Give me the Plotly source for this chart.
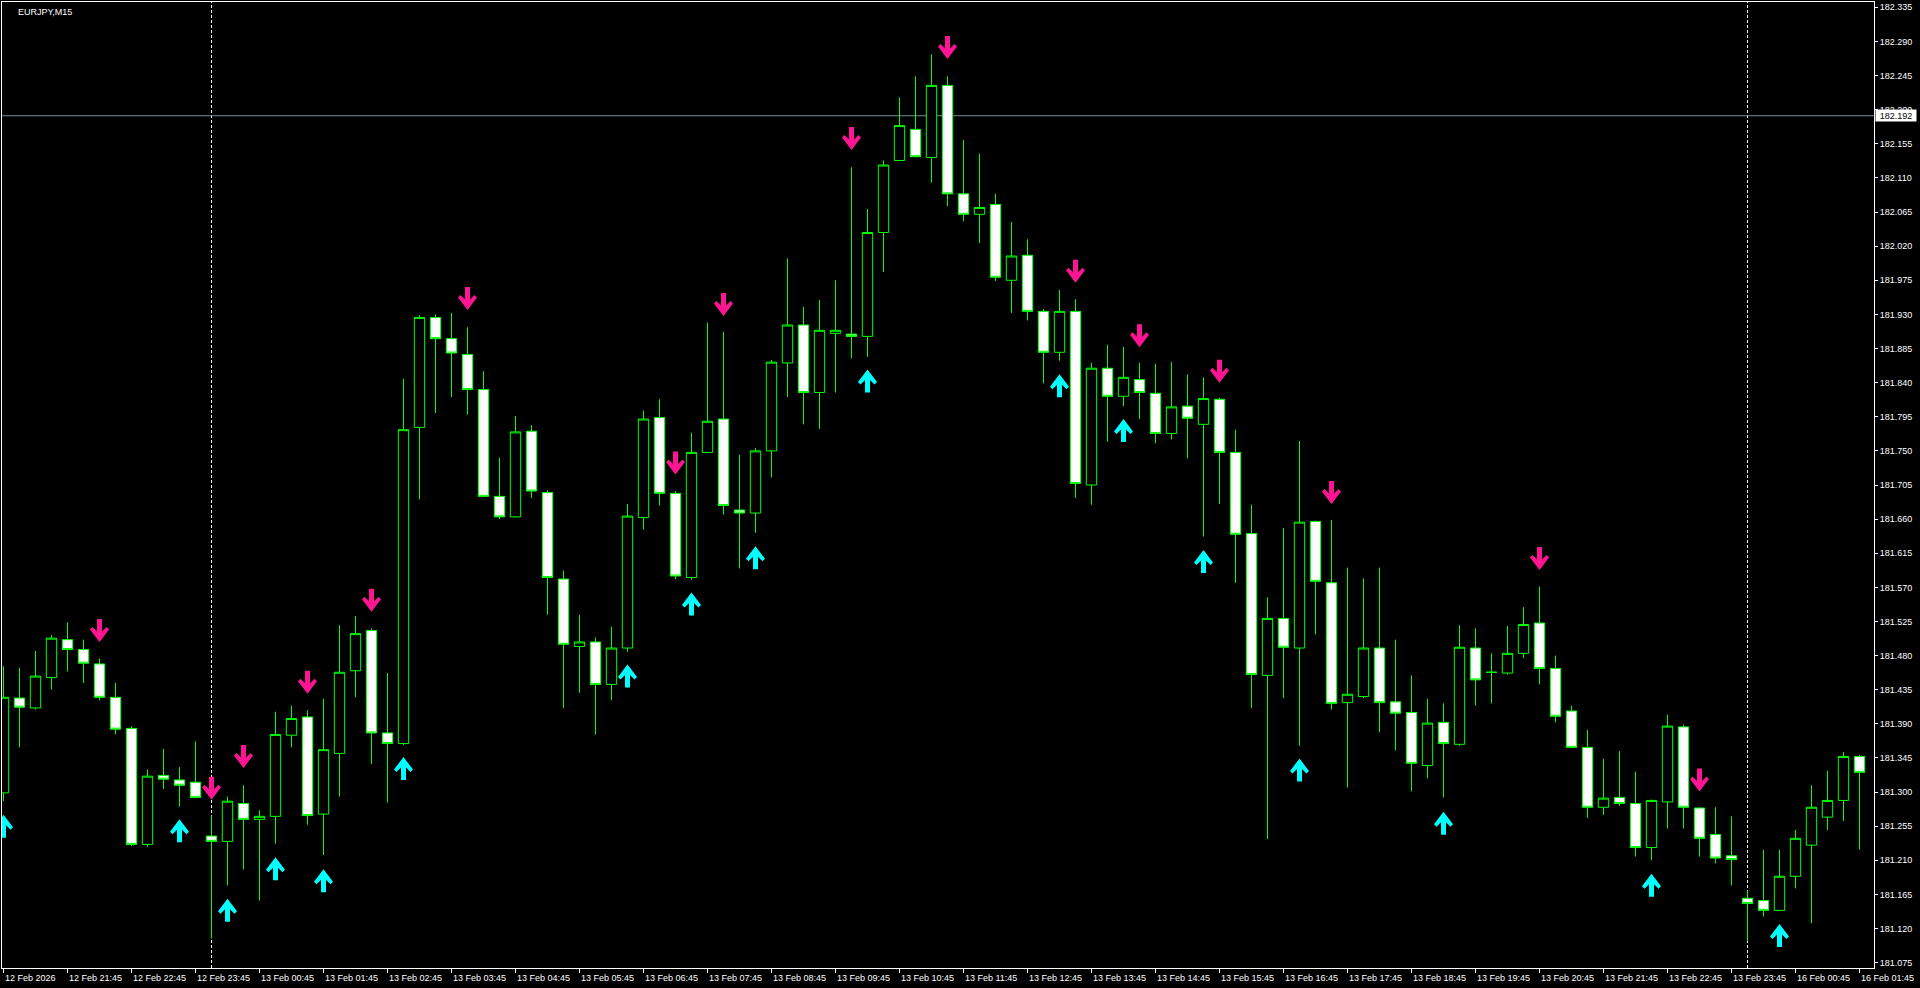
import plotly.graph_objects as go

# ---------------- data (EURJPY, M15) ----------------
opens = [181.299, 181.424, 181.411, 181.451, 181.501, 181.488, 181.469, 181.425, 181.384, 181.231,
         181.322, 181.316, 181.313, 181.242, 181.235, 181.285, 181.264, 181.268, 181.375, 181.399,
         181.271, 181.351, 181.460, 181.513, 181.378, 181.364, 181.781, 181.926, 181.898, 181.877,
         181.831, 181.690, 181.663, 181.776, 181.695, 181.581, 181.492, 181.498, 181.442, 181.490,
         181.662, 181.794, 181.694, 181.583, 181.748, 181.792, 181.672, 181.668, 181.750, 181.866,
         181.916, 181.827, 181.905, 181.904, 181.901, 182.038, 182.133, 182.174, 182.137, 182.232,
         182.089, 182.062, 182.075, 181.975, 182.008, 181.934, 181.880, 181.934, 181.705, 181.859,
         181.822, 181.844, 181.826, 181.773, 181.809, 181.785, 181.818, 181.748, 181.641, 181.454,
         181.529, 181.490, 181.657, 181.576, 181.418, 181.426, 181.490, 181.419, 181.405, 181.335,
         181.392, 181.363, 181.490, 181.458, 181.457, 181.483, 181.523, 181.463, 181.407, 181.359,
         181.280, 181.293, 181.285, 181.227, 181.287, 181.386, 181.279, 181.244, 181.216, 181.160,
         181.157, 181.144, 181.189, 181.230, 181.267, 181.289, 181.347]
highs = [181.466, 181.464, 181.486, 181.507, 181.524, 181.501, 181.476, 181.444, 181.387, 181.330,
         181.357, 181.333, 181.367, 181.269, 181.294, 181.309, 181.276, 181.406, 181.414, 181.408,
         181.423, 181.520, 181.532, 181.516, 181.457, 181.845, 181.929, 181.930, 181.932, 181.913,
         181.855, 181.741, 181.796, 181.784, 181.698, 181.592, 181.534, 181.504, 181.518, 181.680,
         181.803, 181.818, 181.697, 181.774, 181.919, 181.907, 181.745, 181.754, 181.870, 182.004,
         181.940, 181.949, 181.975, 182.124, 182.069, 182.133, 182.216, 182.244, 182.273, 182.244,
         182.160, 182.142, 182.089, 182.052, 182.029, 181.937, 181.962, 181.950, 181.866, 181.890,
         181.887, 181.866, 181.865, 181.867, 181.851, 181.847, 181.820, 181.778, 181.679, 181.557,
         181.648, 181.763, 181.658, 181.659, 181.596, 181.582, 181.596, 181.501, 181.454, 181.423,
         181.417, 181.520, 181.516, 181.483, 181.519, 181.544, 181.571, 181.480, 181.414, 181.382,
         181.344, 181.354, 181.327, 181.290, 181.402, 181.389, 181.280, 181.280, 181.268, 181.170,
         181.224, 181.224, 181.250, 181.309, 181.328, 181.353, 181.349]
lows = [181.288, 181.359, 181.409, 181.435, 181.459, 181.444, 181.421, 181.376, 181.229, 181.228,
        181.304, 181.281, 181.292, 181.107, 181.177, 181.198, 181.157, 181.232, 181.359, 181.257,
        181.217, 181.294, 181.425, 181.337, 181.286, 181.362, 181.686, 181.800, 181.821, 181.798,
        181.689, 181.660, 181.662, 181.688, 181.534, 181.411, 181.431, 181.376, 181.421, 181.485,
        181.646, 181.678, 181.581, 181.580, 181.747, 181.666, 181.595, 181.642, 181.715, 181.821,
        181.785, 181.779, 181.827, 181.872, 181.874, 181.986, 182.132, 182.137, 182.104, 182.073,
        182.053, 182.024, 181.974, 181.932, 181.922, 181.839, 181.869, 181.688, 181.679, 181.762,
        181.809, 181.792, 181.760, 181.765, 181.740, 181.637, 181.680, 181.576, 181.411, 181.238,
        181.424, 181.361, 181.508, 181.409, 181.306, 181.424, 181.379, 181.355, 181.301, 181.318,
        181.293, 181.361, 181.414, 181.417, 181.455, 181.477, 181.442, 181.392, 181.359, 181.266,
        181.270, 181.282, 181.215, 181.210, 181.252, 181.252, 181.215, 181.206, 181.177, 181.103,
        181.136, 181.144, 181.173, 181.127, 181.250, 181.262, 181.224]
closes = [181.425, 181.412, 181.453, 181.503, 181.488, 181.470, 181.425, 181.383, 181.231, 181.321,
          181.317, 181.309, 181.293, 181.235, 181.288, 181.264, 181.268, 181.376, 181.397, 181.269,
          181.356, 181.458, 181.509, 181.378, 181.364, 181.778, 181.926, 181.898, 181.879, 181.831,
          181.690, 181.663, 181.775, 181.697, 181.583, 181.495, 181.498, 181.442, 181.490, 181.664,
          181.792, 181.694, 181.585, 181.748, 181.789, 181.678, 181.668, 181.750, 181.867, 181.916,
          181.827, 181.909, 181.909, 181.901, 182.038, 182.127, 182.179, 182.138, 182.232, 182.089,
          182.062, 182.071, 181.979, 182.007, 181.934, 181.880, 181.934, 181.707, 181.859, 181.822,
          181.847, 181.827, 181.773, 181.808, 181.793, 181.819, 181.748, 181.640, 181.455, 181.529,
          181.491, 181.656, 181.578, 181.417, 181.429, 181.490, 181.418, 181.404, 181.338, 181.391,
          181.364, 181.491, 181.448, 181.458, 181.483, 181.521, 181.463, 181.400, 181.359, 181.280,
          181.292, 181.285, 181.227, 181.289, 181.387, 181.280, 181.239, 181.213, 181.211, 181.153,
          181.144, 181.189, 181.239, 181.280, 181.289, 181.347, 181.326]

# signal arrows (bar index, price level of the arrow)
down_idx = [6, 13, 15, 19, 23, 29, 42, 45, 53, 59, 67, 71, 76, 83, 96, 106]
down_price = [181.513, 181.305, 181.347, 181.445, 181.553, 181.951, 181.734, 181.943, 182.162, 182.282,
              181.987, 181.902, 181.855, 181.695, 181.608, 181.316]
up_idx = [0, 11, 14, 17, 20, 25, 39, 43, 47, 54, 66, 70, 75, 81, 90, 103, 111]
up_price = [181.255, 181.249, 181.144, 181.199, 181.183, 181.331, 181.453, 181.548, 181.609, 181.842,
            181.836, 181.777, 181.604, 181.329, 181.259, 181.177, 181.111]

day_separators = [13, 109]
bid_price = 182.192
symbol_label = "EURJPY,M15"

x_tick_idx = [0, 4, 8, 12, 16, 20, 24, 28, 32, 36, 40, 44, 48, 52, 56, 60, 64, 68, 72, 76,
              80, 84, 88, 92, 96, 100, 104, 108, 112, 116]
x_tick_text = ["12 Feb 2026", "12 Feb 21:45", "12 Feb 22:45", "12 Feb 23:45",
               "13 Feb 00:45", "13 Feb 01:45", "13 Feb 02:45", "13 Feb 03:45", "13 Feb 04:45",
               "13 Feb 05:45", "13 Feb 06:45", "13 Feb 07:45", "13 Feb 08:45", "13 Feb 09:45",
               "13 Feb 10:45", "13 Feb 11:45", "13 Feb 12:45", "13 Feb 13:45", "13 Feb 14:45",
               "13 Feb 15:45", "13 Feb 16:45", "13 Feb 17:45", "13 Feb 18:45", "13 Feb 19:45",
               "13 Feb 20:45", "13 Feb 21:45", "13 Feb 22:45", "13 Feb 23:45",
               "16 Feb 00:45", "16 Feb 01:45"]
y_ticks = [181.075, 181.120, 181.165, 181.210, 181.255, 181.300, 181.345, 181.390, 181.435, 181.480,
           181.525, 181.570, 181.615, 181.660, 181.705, 181.750, 181.795, 181.840, 181.885, 181.930,
           181.975, 182.020, 182.065, 182.110, 182.155, 182.200, 182.245, 182.290, 182.335]

# ---------------- styling ----------------
FONT = "Liberation Sans"
LIME = "#00FF00"
PINK = "#FF1493"
AQUA = "#00FFFF"
DOWN_PATH = "M-2.5,11.5 L2.5,11.5 L2.5,-1 L7,3.5 L9.5,1 L0,-11.5 L-9.5,1 L-7,3.5 L-2.5,-1 Z"
UP_PATH = "M-2.5,-11.5 L2.5,-11.5 L2.5,1 L7,-3.5 L9.5,-1 L0,11.5 L-9.5,-1 L-7,-3.5 L-2.5,1 Z"

fig = go.Figure()
fig.add_trace(go.Candlestick(
    x=list(range(len(opens))), open=opens, high=highs, low=lows, close=closes,
    increasing=dict(line=dict(color=LIME, width=1), fillcolor="#000000"),
    decreasing=dict(line=dict(color=LIME, width=1), fillcolor="#FFFFFF"),
    whiskerwidth=0, hoverinfo="skip", showlegend=False,
))

shapes = []
for d in day_separators:
    shapes.append(dict(type="line", xref="x", yref="paper", x0=d, x1=d, y0=0, y1=1,
                       line=dict(color="white", width=1, dash="3px,2px"), layer="below"))
shapes.append(dict(type="line", xref="paper", yref="y", x0=0, x1=1, y0=bid_price, y1=bid_price,
                   line=dict(color="#778899", width=1), layer="below"))
for i, p in zip(down_idx, down_price):
    shapes.append(dict(type="path", xref="x", yref="y", xsizemode="pixel", ysizemode="pixel",
                       xanchor=i, yanchor=p, path=DOWN_PATH, fillcolor=PINK,
                       line=dict(width=0), layer="above"))
for i, p in zip(up_idx, up_price):
    shapes.append(dict(type="path", xref="x", yref="y", xsizemode="pixel", ysizemode="pixel",
                       xanchor=i, yanchor=p, path=UP_PATH, fillcolor=AQUA,
                       line=dict(width=0), layer="above"))

annotations = []
for i, t in zip(x_tick_idx, x_tick_text):
    annotations.append(dict(x=i, xref="x", y=0, yref="paper", text=t, showarrow=False,
                            xanchor="left", yanchor="top", xshift=-1, yshift=-3,
                            font=dict(family=FONT, size=9, color="white")))
annotations.append(dict(x=0, xref="paper", y=1, yref="paper", text=symbol_label, showarrow=False,
                        xanchor="left", yanchor="top", xshift=14, yshift=-3,
                        font=dict(family=FONT, size=9, color="white")))
annotations.append(dict(x=1, xref="paper", y=bid_price, yref="y", text=f"{bid_price:.3f}",
                        showarrow=False, xanchor="left", yanchor="middle", xshift=1,
                        bgcolor="white", width=38, height=9, borderpad=1,
                        font=dict(family=FONT, size=9, color="black")))

fig.update_layout(
    width=1920, height=988, autosize=False,
    margin=dict(l=2, r=46, t=2, b=20, pad=0),
    paper_bgcolor="black", plot_bgcolor="black",
    showlegend=False, boxgap=0.35, boxgroupgap=0,
    shapes=shapes, annotations=annotations,
    xaxis=dict(range=[-0.09375, 116.90625], autorange=False, showgrid=False, zeroline=False,
               showline=True, linecolor="white", linewidth=1, mirror=True,
               tickmode="array", tickvals=x_tick_idx, ticks="outside", ticklen=4,
               tickcolor="white", tickwidth=1, showticklabels=False,
               rangeslider=dict(visible=False), fixedrange=True),
    yaxis=dict(range=[181.068, 182.342], autorange=False, side="right", showgrid=False,
               zeroline=False, showline=True, linecolor="white", linewidth=1, mirror=True,
               tickmode="array", tickvals=y_ticks, ticktext=[f"{v:.3f}" for v in y_ticks],
               ticks="outside", ticklen=3, tickcolor="white", tickwidth=1,
               tickfont=dict(family=FONT, size=9, color="white"), fixedrange=True),
)

fig.write_html("out.html", include_plotlyjs=True, config={"displayModeBar": False},
               post_script="document.body.style.margin='0';document.body.style.overflow='hidden';")
